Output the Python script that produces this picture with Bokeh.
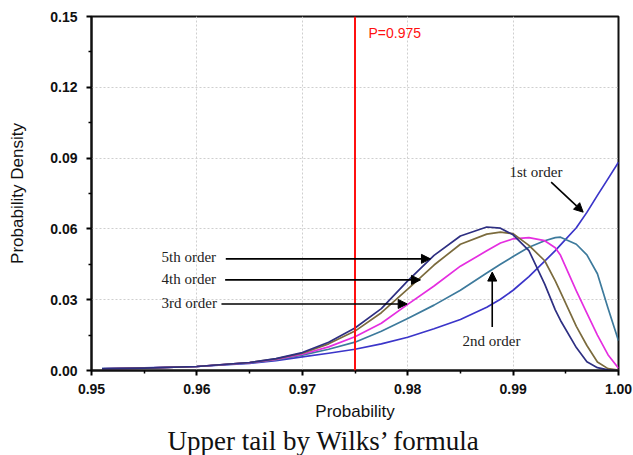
from bokeh.plotting import figure
from bokeh.models import Range1d, FixedTicker, NumeralTickFormatter, Span, Label, Arrow, NormalHead, Title
from bokeh.embed import file_html
from bokeh.resources import INLINE

# Probability grid (x)
prob = [0.951, 0.955, 0.96, 0.965, 0.9675, 0.97, 0.9725, 0.975, 0.9775, 0.98, 0.9825, 0.985,
        0.9875, 0.9888, 0.99, 0.9915, 0.993, 0.994, 0.9945, 0.996, 0.997, 0.998, 0.999, 1.0]

order1 = [0.0008, 0.0011, 0.0017, 0.0030, 0.0042, 0.0058, 0.0073, 0.0090, 0.0113, 0.0141, 0.0177, 0.0216,
          0.0268, 0.0302, 0.0340, 0.0398, 0.0463, 0.0508, 0.0532, 0.0605, 0.0670, 0.0742, 0.0812, 0.0883]
order2 = [0.0008, 0.0010, 0.0017, 0.0032, 0.0045, 0.0065, 0.0090, 0.0120, 0.0166, 0.0220, 0.0277, 0.0340,
          0.0413, 0.0450, 0.0483, 0.0522, 0.0550, 0.0563, 0.0565, 0.0535, 0.0490, 0.0410, 0.0265, 0.0126]
order3 = [0.0007, 0.0010, 0.0017, 0.0033, 0.0047, 0.0069, 0.0100, 0.0143, 0.0200, 0.0280, 0.0358, 0.0442,
          0.0507, 0.0540, 0.0558, 0.0563, 0.0550, 0.0520, 0.0488, 0.0337, 0.0243, 0.0150, 0.0067, 0.0010]
order4 = [0.0007, 0.0010, 0.0017, 0.0034, 0.0049, 0.0073, 0.0113, 0.0167, 0.0245, 0.0345, 0.0447, 0.0535,
          0.0578, 0.0586, 0.0580, 0.0530, 0.0465, 0.0380, 0.0332, 0.0187, 0.0106, 0.0036, 0.0008, 0.0002]
order5 = [0.0007, 0.0010, 0.0017, 0.0034, 0.0050, 0.0076, 0.0120, 0.0180, 0.0262, 0.0380, 0.0488, 0.0570,
          0.0608, 0.0603, 0.0575, 0.0508, 0.0366, 0.0257, 0.0212, 0.0097, 0.0037, 0.0012, 0.0003, 0.0000]

x_ticks = [0.95, 0.96, 0.97, 0.98, 0.99, 1.00]
x_minor = [0.955, 0.965, 0.975, 0.985, 0.995]
y_ticks = [0.00, 0.03, 0.06, 0.09, 0.12, 0.15]
y_minor = [0.015, 0.045, 0.075, 0.105, 0.135]

p_line = 0.975

p = figure(width=633, height=455, output_backend="svg", toolbar_location=None,
           x_range=Range1d(0.95, 1.0), y_range=Range1d(0.0, 0.15),
           min_border_left=91, min_border_right=15, min_border_top=16, min_border_bottom=85)
p.background_fill_color = "white"
p.border_fill_color = "white"
p.outline_line_color = "#111111"
p.outline_line_width = 2

p.xaxis.ticker = FixedTicker(ticks=x_ticks, minor_ticks=x_minor)
p.yaxis.ticker = FixedTicker(ticks=y_ticks, minor_ticks=y_minor)
p.xaxis.formatter = NumeralTickFormatter(format="0.00")
p.yaxis.formatter = NumeralTickFormatter(format="0.00")
for ax in (p.xaxis, p.yaxis):
    ax.axis_line_width = 2
    ax.axis_line_color = "#111111"
    ax.major_tick_line_width = 2
    ax.minor_tick_line_width = 1.5
    ax.major_tick_out = 5
    ax.major_tick_in = 0
    ax.minor_tick_out = 3
    ax.minor_tick_in = 0
    ax.major_label_text_font = "Liberation Sans"
    ax.major_label_text_font_style = "bold"
    ax.major_label_text_font_size = "14px"
    ax.major_label_text_color = "#111111"
    ax.axis_label_text_font = "Liberation Sans"
    ax.axis_label_text_font_style = "normal"
    ax.axis_label_text_font_size = "17px"
    ax.axis_label_text_color = "#111111"
p.xaxis.major_label_standoff = 8
p.yaxis.major_label_standoff = 9
p.xaxis.axis_label = "Probability"
p.yaxis.axis_label = "Probability Density"
p.xaxis.axis_label_standoff = 5
p.yaxis.axis_label_standoff = 20

p.grid.grid_line_color = "#cfcfcf"
p.grid.grid_line_dash = "2 2"
p.grid.grid_line_width = 1

colors = ["#3b35c9", "#3d7a9c", "#e52ee0", "#7b6b3d", "#2e2f82"]
for series, c in zip([order1, order2, order3, order4, order5], colors):
    p.line(prob, series, line_color=c, line_width=1.7, line_join="round")

p.add_layout(Span(location=p_line, dimension="height", line_color="#ff1010", line_width=2))
p.add_layout(Label(x=0.97628, y=0.1432, text="P=0.975", text_color="#ff1010",
                   text_font="Liberation Sans", text_font_size="14px", text_baseline="middle"))

serif = "Liberation Serif"
ann = [("1st order", 0.98966, 0.0841), ("5th order", 0.95664, 0.0479),
       ("4th order", 0.95664, 0.0386), ("3rd order", 0.95664, 0.0284), ("2nd order", 0.9852, 0.0123)]
for t, ax_, ay_ in ann:
    p.add_layout(Label(x=ax_, y=ay_, text=t, text_font=serif, text_font_size="15px",
                       text_color="#222222", text_baseline="middle"))

arrows = [(0.99361, 0.0798, 0.99665, 0.0671), (0.96274, 0.0473, 0.98216, 0.0473),
          (0.96268, 0.0384, 0.98121, 0.0384), (0.96233, 0.0282, 0.97995, 0.0282),
          (0.98802, 0.0184, 0.98802, 0.0417)]
for xs, ys, xe, ye in arrows:
    p.add_layout(Arrow(end=NormalHead(size=9, fill_color="black", line_color="black"),
                       x_start=xs, y_start=ys, x_end=xe, y_end=ye,
                       line_color="black", line_width=1.6))

p.add_layout(Title(text="Upper tail by Wilks\u2019 formula", text_font=serif, text_font_size="27px",
                   text_font_style="normal", text_color="#111111", align="left", offset=76,
                   standoff=0), "below")

open("out.html", "w").write(file_html(p, INLINE))
